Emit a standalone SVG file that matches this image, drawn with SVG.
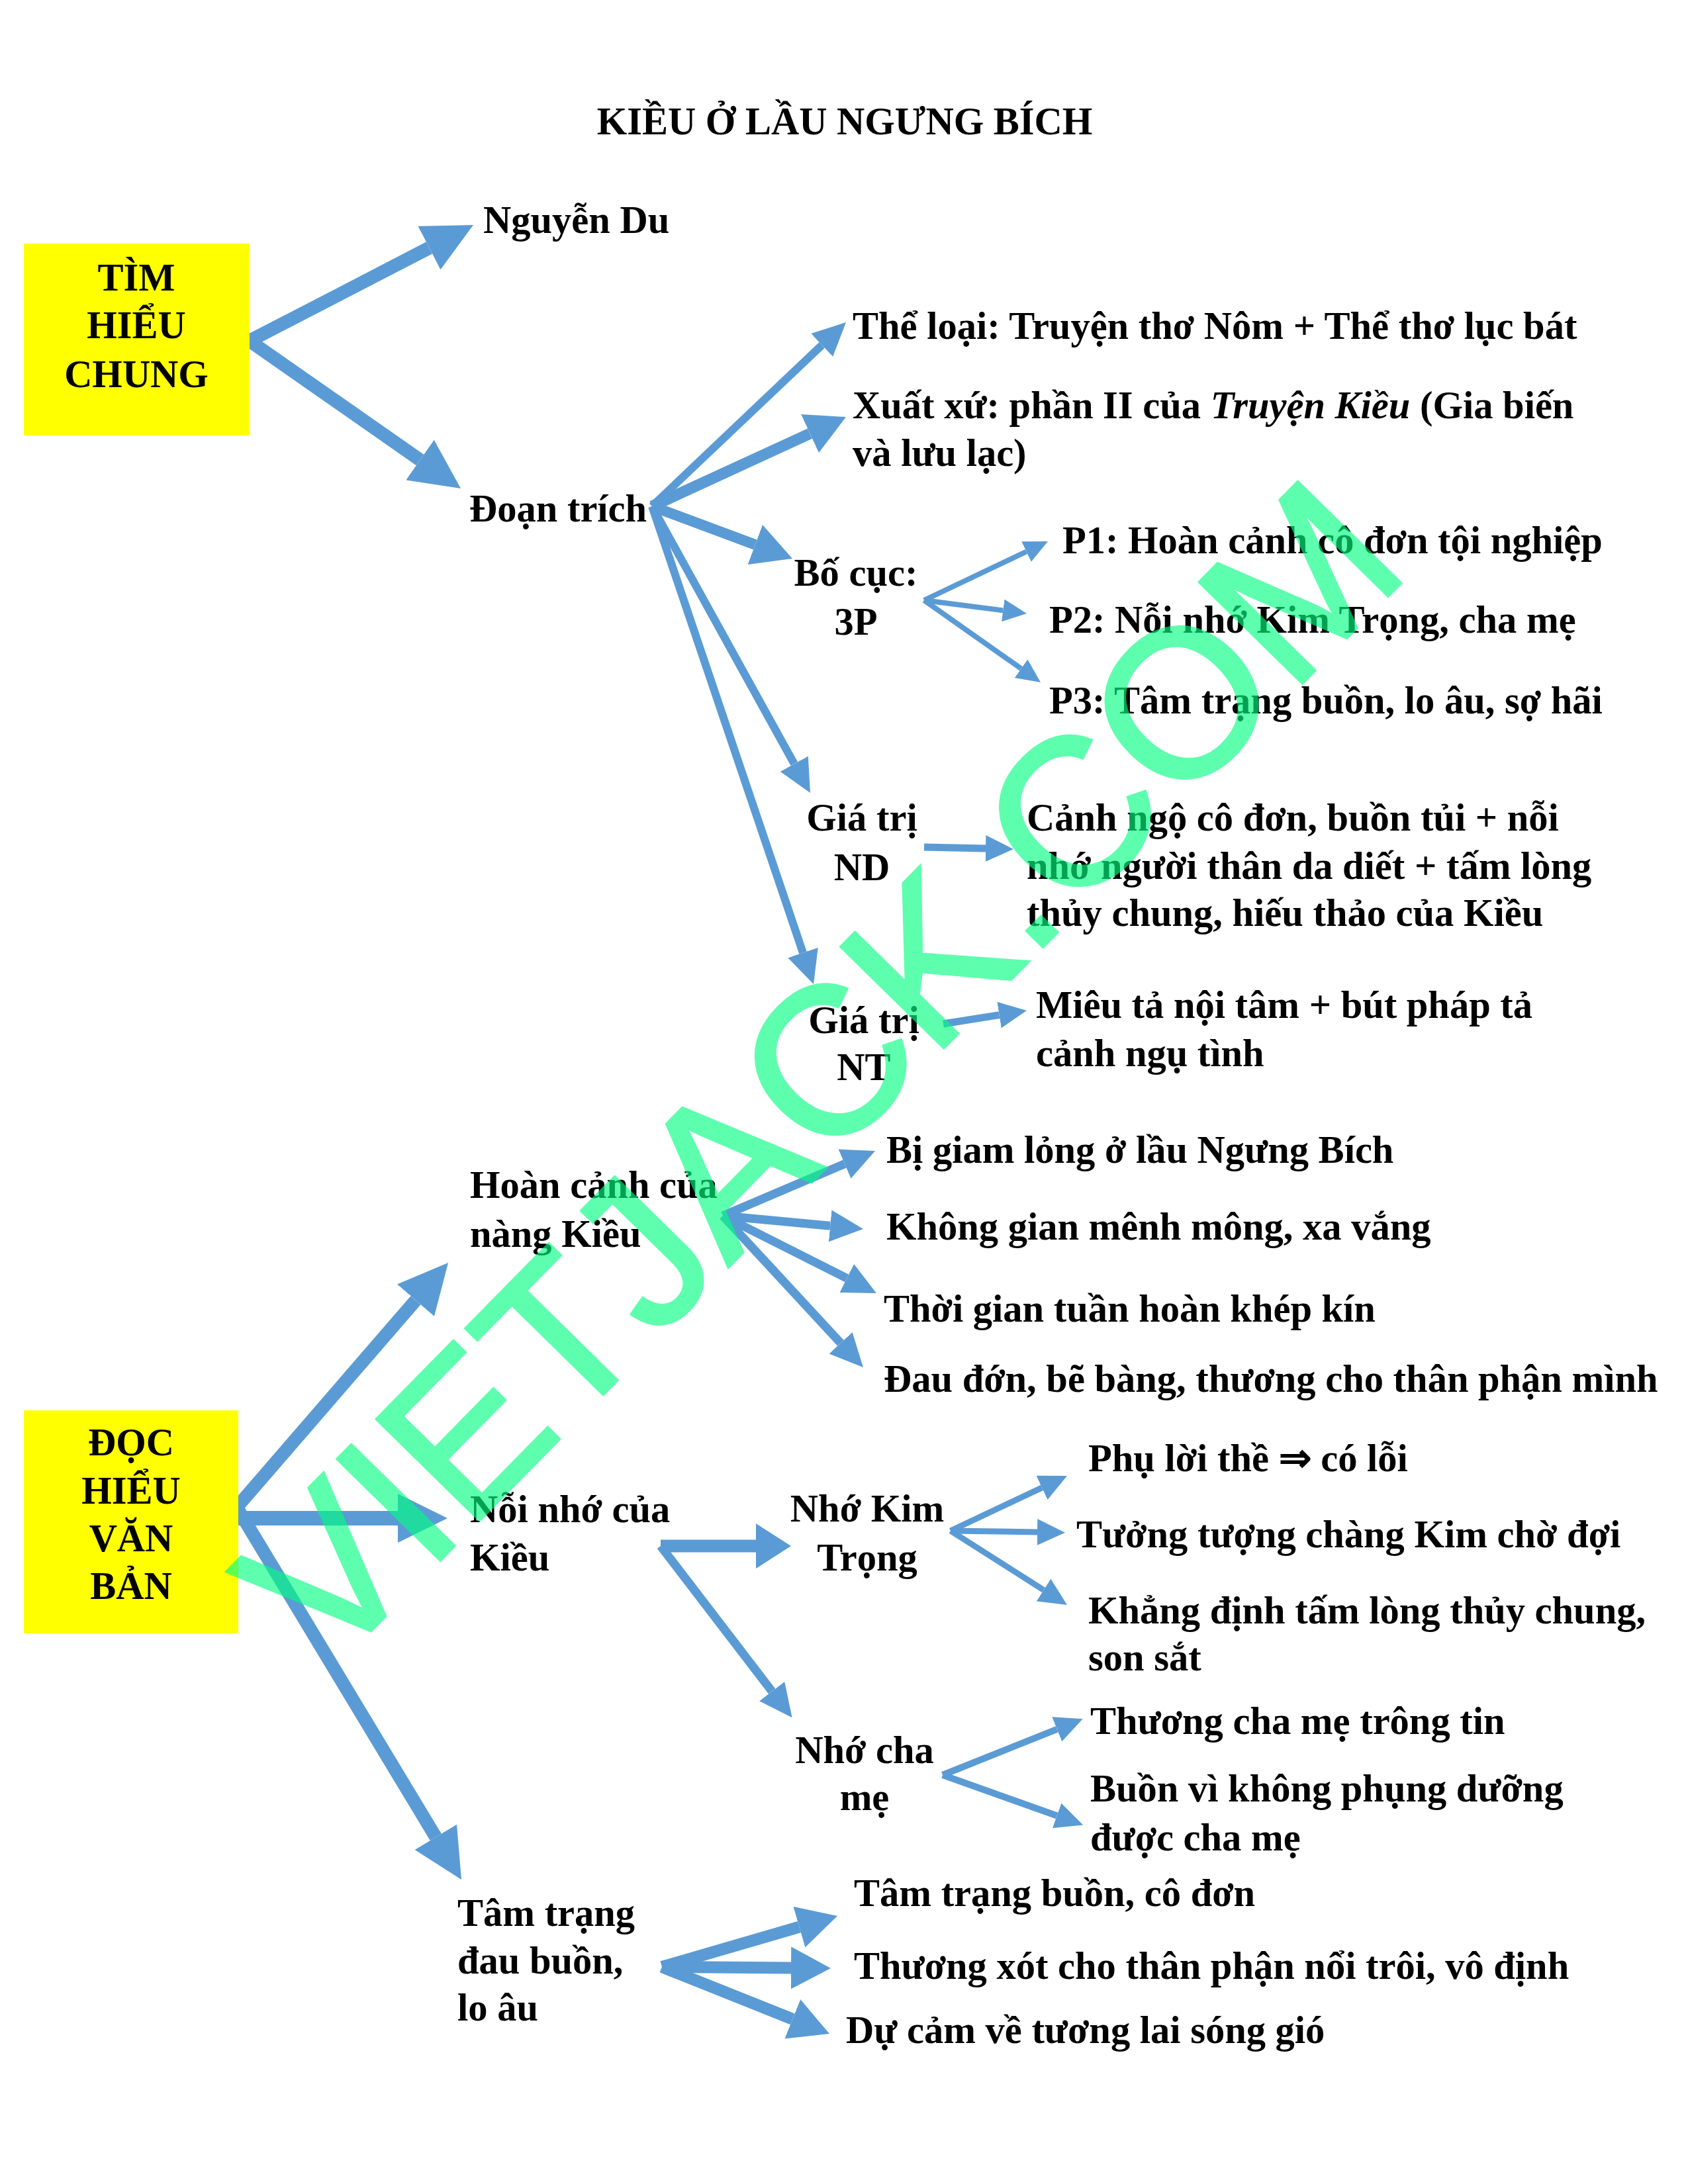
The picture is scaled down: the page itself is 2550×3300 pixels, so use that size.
<svg xmlns="http://www.w3.org/2000/svg" width="2550" height="3300" viewBox="0 0 2550 3300">
<style>
text{font-family:"Liberation Serif","Times New Roman",serif;font-weight:bold;font-size:58.5px;fill:#000}
.c{text-anchor:middle}
.box{fill:#FFFF00}
.a{stroke:#5B9BD5;fill:none;stroke-linecap:butt}
.wm{font-family:"Liberation Sans",Arial,sans-serif;font-weight:normal;font-size:316px;fill:#00FF80;stroke:#00FF80;stroke-width:5}
</style>
<defs>
<marker id="mXL" markerUnits="userSpaceOnUse" markerWidth="75" markerHeight="74" refX="0" refY="37" orient="auto"><path d="M0,0 L75,37 L0,74 z" fill="#5B9BD5"/></marker>
<marker id="mL" markerUnits="userSpaceOnUse" markerWidth="60" markerHeight="64" refX="0" refY="32" orient="auto"><path d="M0,0 L60,32 L0,64 z" fill="#5B9BD5"/></marker>
<marker id="mG" markerUnits="userSpaceOnUse" markerWidth="53" markerHeight="68" refX="0" refY="34" orient="auto"><path d="M0,0 L53,34 L0,68 z" fill="#5B9BD5"/></marker>
<marker id="mM" markerUnits="userSpaceOnUse" markerWidth="50" markerHeight="48" refX="0" refY="24" orient="auto"><path d="M0,0 L50,24 L0,48 z" fill="#5B9BD5"/></marker>
<marker id="mH" markerUnits="userSpaceOnUse" markerWidth="42" markerHeight="40" refX="0" refY="20" orient="auto"><path d="M0,0 L42,20 L0,40 z" fill="#5B9BD5"/></marker>
<marker id="mS" markerUnits="userSpaceOnUse" markerWidth="36" markerHeight="34" refX="0" refY="17" orient="auto"><path d="M0,0 L36,17 L0,34 z" fill="#5B9BD5"/></marker>
</defs>
<rect width="2550" height="3300" fill="#fff"/>

<g id="title"><text class="c" x="1276" y="203">KIỀU Ở LẦU NGƯNG BÍCH</text></g>

<g id="connectors">
<line class="a" stroke-width="20" x1="377" y1="515" x2="648.4" y2="374.5" marker-end="url(#mXL)"/>
<line class="a" stroke-width="20" x1="377" y1="515" x2="634.5" y2="695" marker-end="url(#mXL)"/>
<line class="a" stroke-width="12" x1="985" y1="765" x2="1241.7" y2="521.4" marker-end="url(#mM)"/>
<line class="a" stroke-width="17" x1="985" y1="765" x2="1223.5" y2="655.1" marker-end="url(#mL)"/>
<line class="a" stroke-width="16" x1="985" y1="765" x2="1140.8" y2="823" marker-end="url(#mL)"/>
<line class="a" stroke-width="12" x1="985" y1="765" x2="1199.8" y2="1154.2" marker-end="url(#mM)"/>
<line class="a" stroke-width="12" x1="985" y1="765" x2="1213" y2="1439.6" marker-end="url(#mM)"/>
<line class="a" stroke-width="8" x1="1396" y1="907" x2="1550.5" y2="833.5" marker-end="url(#mS)"/>
<line class="a" stroke-width="8" x1="1396" y1="907" x2="1515.3" y2="922.4" marker-end="url(#mS)"/>
<line class="a" stroke-width="8" x1="1396" y1="907" x2="1542.6" y2="1010.3" marker-end="url(#mS)"/>
<line class="a" stroke-width="11" x1="1396" y1="1280" x2="1489" y2="1282" marker-end="url(#mH)"/>
<line class="a" stroke-width="11" x1="1425" y1="1547" x2="1509.5" y2="1533.6" marker-end="url(#mH)"/>
<line class="a" stroke-width="20" x1="352" y1="2284" x2="628" y2="1964.7" marker-end="url(#mXL)"/>
<line class="a" stroke-width="22" x1="352" y1="2294" x2="601" y2="2294" marker-end="url(#mXL)"/>
<line class="a" stroke-width="20" x1="358" y1="2278" x2="658.3" y2="2775.8" marker-end="url(#mXL)"/>
<line class="a" stroke-width="13" x1="1092" y1="1837" x2="1276" y2="1758.6" marker-end="url(#mM)"/>
<line class="a" stroke-width="13" x1="1092" y1="1837" x2="1254.2" y2="1852.3" marker-end="url(#mM)"/>
<line class="a" stroke-width="13" x1="1092" y1="1837" x2="1279.3" y2="1931.5" marker-end="url(#mM)"/>
<line class="a" stroke-width="13" x1="1092" y1="1837" x2="1270" y2="2029.3" marker-end="url(#mM)"/>
<line class="a" stroke-width="19" x1="998" y1="2336" x2="1142" y2="2336" marker-end="url(#mG)"/>
<line class="a" stroke-width="13" x1="998" y1="2336" x2="1166.2" y2="2555.6" marker-end="url(#mM)"/>
<line class="a" stroke-width="9" x1="1436" y1="2313" x2="1574" y2="2247.9" marker-end="url(#mH)"/>
<line class="a" stroke-width="9" x1="1436" y1="2313" x2="1567" y2="2315" marker-end="url(#mH)"/>
<line class="a" stroke-width="9" x1="1436" y1="2313" x2="1576.6" y2="2402.5" marker-end="url(#mH)"/>
<line class="a" stroke-width="10" x1="1424" y1="2682" x2="1596.7" y2="2612.8" marker-end="url(#mH)"/>
<line class="a" stroke-width="10" x1="1424" y1="2682" x2="1596.6" y2="2743.5" marker-end="url(#mH)"/>
<line class="a" stroke-width="18" x1="1000" y1="2972" x2="1207.4" y2="2911.7" marker-end="url(#mL)"/>
<line class="a" stroke-width="18" x1="1000" y1="2972" x2="1195" y2="2973.5" marker-end="url(#mL)"/>
<line class="a" stroke-width="18" x1="1000" y1="2972" x2="1197.3" y2="3050.8" marker-end="url(#mL)"/>
</g>

<g id="tim-hieu-chung">
<rect class="box" x="36" y="368" width="341" height="290"/>
<text class="c" x="206" y="439">TÌM</text>
<text class="c" x="206" y="511">HIỂU</text>
<text class="c" x="206" y="585">CHUNG</text>
</g>
<g id="nguyen-du"><text x="730" y="352">Nguyễn Du</text></g>
<g id="doan-trich"><text x="709" y="788">Đoạn trích</text></g>
<g id="the-loai"><text x="1288" y="512">Thể loại: Truyện thơ Nôm + Thể thơ lục bát</text></g>
<g id="xuat-xu">
<text x="1288" y="632">Xuất xứ: phần II của <tspan font-style="italic">Truyện Kiều</tspan> (Gia biến</text>
<text x="1288" y="704">và lưu lạc)</text>
</g>
<g id="bo-cuc">
<text class="c" x="1293" y="885">Bố cục:</text>
<text class="c" x="1293" y="959">3P</text>
</g>
<g id="p1"><text x="1605" y="836">P1: Hoàn cảnh cô đơn tội nghiệp</text></g>
<g id="p2"><text x="1585" y="956">P2: Nỗi nhớ Kim Trọng, cha mẹ</text></g>
<g id="p3"><text x="1585" y="1078">P3: Tâm trạng buồn, lo âu, sợ hãi</text></g>
<g id="gia-tri-nd">
<text class="c" x="1302" y="1255">Giá trị</text>
<text class="c" x="1302" y="1330">ND</text>
</g>
<g id="nd-content">
<text x="1551" y="1255">Cảnh ngộ cô đơn, buồn tủi + nỗi</text>
<text x="1551" y="1328">nhớ người thân da diết + tấm lòng</text>
<text x="1551" y="1399">thủy chung, hiếu thảo của Kiều</text>
</g>
<g id="gia-tri-nt">
<text class="c" x="1305" y="1561">Giá trị</text>
<text class="c" x="1305" y="1632">NT</text>
</g>
<g id="nt-content">
<text x="1565" y="1538">Miêu tả nội tâm + bút pháp tả</text>
<text x="1565" y="1611">cảnh ngụ tình</text>
</g>

<g id="doc-hieu-van-ban">
<rect class="box" x="36" y="2131" width="324" height="337"/>
<text class="c" x="198" y="2199">ĐỌC</text>
<text class="c" x="198" y="2272">HIỂU</text>
<text class="c" x="198" y="2344">VĂN</text>
<text class="c" x="198" y="2416">BẢN</text>
</g>
<g id="hoan-canh">
<text x="710" y="1810">Hoàn cảnh của</text>
<text x="710" y="1884">nàng Kiều</text>
</g>
<g id="hc1"><text x="1339" y="1757">Bị giam lỏng ở lầu Ngưng Bích</text></g>
<g id="hc2"><text x="1339" y="1873">Không gian mênh mông, xa vắng</text></g>
<g id="hc3"><text x="1335" y="1997">Thời gian tuần hoàn khép kín</text></g>
<g id="hc4"><text x="1335" y="2103">Đau đớn, bẽ bàng, thương cho thân phận mình</text></g>
<g id="noi-nho">
<text x="710" y="2300">Nỗi nhớ của</text>
<text x="710" y="2373">Kiều</text>
</g>
<g id="nho-kim-trong">
<text class="c" x="1310" y="2299">Nhớ Kim</text>
<text class="c" x="1310" y="2373">Trọng</text>
</g>
<g id="kt1"><text x="1644" y="2223">Phụ lời thề ⇒ có lỗi</text></g>
<g id="kt2"><text x="1626" y="2338">Tưởng tượng chàng Kim chờ đợi</text></g>
<g id="kt3">
<text x="1644" y="2453">Khẳng định tấm lòng thủy chung,</text>
<text x="1644" y="2524">son sắt</text>
</g>
<g id="nho-cha-me">
<text class="c" x="1306" y="2664">Nhớ cha</text>
<text class="c" x="1306" y="2735">mẹ</text>
</g>
<g id="cm1"><text x="1647" y="2620">Thương cha mẹ trông tin</text></g>
<g id="cm2">
<text x="1647" y="2722">Buồn vì không phụng dưỡng</text>
<text x="1647" y="2796">được cha mẹ</text>
</g>
<g id="tam-trang">
<text x="691" y="2910">Tâm trạng</text>
<text x="691" y="2982">đau buồn,</text>
<text x="691" y="3053">lo âu</text>
</g>
<g id="tt1"><text x="1290" y="2880">Tâm trạng buồn, cô đơn</text></g>
<g id="tt2"><text x="1290" y="2990">Thương xót cho thân phận nổi trôi, vô định</text></g>
<g id="tt3"><text x="1278" y="3087">Dự cảm về tương lai sóng gió</text></g>

<g id="watermark" opacity="0.63"><text class="wm" x="497" y="2528" transform="rotate(-45.5 497 2528)">VIETJACK.COM</text></g>
</svg>
